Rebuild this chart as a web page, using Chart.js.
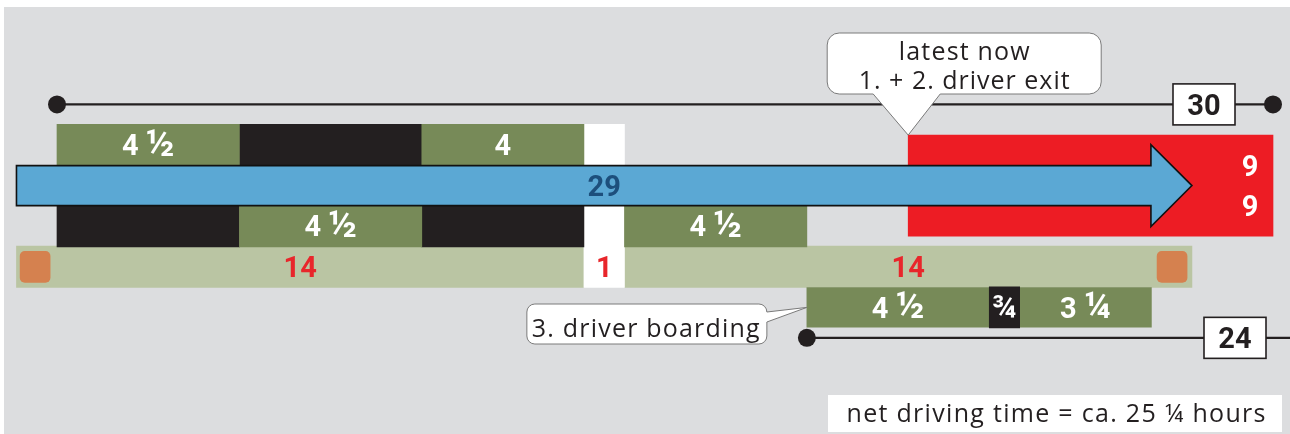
<!DOCTYPE html>
<html><head><meta charset="utf-8">
<script src="https://cdn.jsdelivr.net/npm/chart.js@4/dist/chart.umd.min.js"></script>
<style>html,body{margin:0;padding:0;background:#fff;overflow:hidden}#wrap{position:relative;width:1290px;height:434px}</style>
</head><body><div id="wrap"><canvas id="c" width="1290" height="434"></canvas></div>
<script>
// ---------- data (hours on the time axis) ----------
const driver1Drive = [[0, 4.5], [9, 13]];
const driver1DriveLabels = ['4 ½', '4'];
const driver1Rest = [[4.5, 9]];
const driver2Drive = [[4.5, 9], [14, 18.5]];
const driver2DriveLabels = ['4 ½', '4 ½'];
const driver2Rest = [[0, 4.5], [9, 13]];
const driver3Drive = [[18.5, 23], [23.75, 27]];
const driver3DriveLabels = ['4 ½', '3 ¼'];
const driver3Break = [[23, 23.75]];
const driver3BreakLabels = ['¾'];
const crewBreak = [[13, 14]];
const crewBreakLabels = ['1'];
const dailyRest = [[-1, 13], [14, 28]];
const dailyRestLabels = ['14', '14'];
const restMarkers = [[-0.91, -0.17], [27.14, 27.88]];
const journey = [-1, 28];
const journeyLabel = '29';
const exitWindow = [[21, 30]];
const exitWindowLabels = ['9', '9'];
const span30 = [0, 30];
const span30Label = '30';
const span24 = [18.5, 42.5];
const span24Label = '24';
const exitNote = ['latest now', '1. + 2. driver exit'];
const boardingNote = '3. driver boarding';
const netNote = 'net driving time = ca. 25 ¼ hours';

// ---------- layout (row positions on the y scale) ----------
const ROW = {line30: 2, top: 3, journey: 4, bottom: 5, rest: 6, third: 7, line24: 7.75};
const PITCH = 40.6;
const PXH = 1216 / 30;
const C = {green: '#778a58', black: '#231f20', light: '#bac5a3', red: '#ed1c24', orange: '#d5814f',
  white: '#ffffff', blue: '#5ba8d4', bg: '#dcdddf', labelRed: '#e8262b', navy: '#1d4f7c'};
const BOLD = 'Roboto, "DejaVu Sans", sans-serif';
const REG = '"Open Sans", Roboto, sans-serif';

const rows = (arr, row) => arr.map(r => ({x: r, y: row}));
function barSet(label, data, color, order, extra) {
  return Object.assign({type: 'bar', label, data, backgroundColor: color, borderWidth: 0,
    grouped: false, barThickness: PITCH + 0.6, order, indexAxis: 'y'}, extra || {});
}

const datasets = [
  barSet('exit window', rows(exitWindow, ROW.journey), C.red, 1, {barThickness: 101, segLabels: exitWindowLabels, labelMode: 'stack'}),
  barSet('driver 3 break', rows(driver3Break, ROW.third), C.black, 2, {segLabels: driver3BreakLabels, labelColor: '#fff', labelSize: 24}),
  barSet('driver 3 drive', rows(driver3Drive, ROW.third), C.green, 3, {barThickness: 39.5, segLabels: driver3DriveLabels, labelColor: '#fff'}),
  barSet('driver 1 drive', rows(driver1Drive, ROW.top), C.green, 3, {segLabels: driver1DriveLabels, labelColor: '#fff'}),
  barSet('driver 1 rest', rows(driver1Rest, ROW.top), C.black, 3),
  barSet('driver 2 drive', rows(driver2Drive, ROW.bottom), C.green, 3, {segLabels: driver2DriveLabels, labelColor: '#fff'}),
  barSet('driver 2 rest', rows(driver2Rest, ROW.bottom), C.black, 3),
  barSet('crew break', rows(crewBreak, ROW.top + 1.5), C.white, 4, {barThickness: PITCH * 4 + 0.6, segLabels: crewBreakLabels, labelColor: C.labelRed, labelRow: ROW.rest}),
  barSet('rest markers', rows(restMarkers, ROW.rest), C.orange, 5, {barThickness: 31, borderSkipped: false,
    borderRadius: {topLeft: 5, topRight: 5, bottomLeft: 5, bottomRight: 5}}),
  barSet('daily rest', rows(dailyRest, ROW.rest), C.light, 6, {segLabels: dailyRestLabels, labelColor: C.labelRed}),
  {type: 'line', label: '30 h', data: span30.map(v => ({x: v, y: ROW.line30})), borderColor: C.black, borderWidth: 2.2,
    pointRadius: 9, pointHoverRadius: 9, pointBackgroundColor: C.black, pointBorderWidth: 0, order: 7, indexAxis: 'x'},
  {type: 'line', label: '24 h', data: span24.map(v => ({x: v, y: ROW.line24})), borderColor: C.black, borderWidth: 2.2,
    pointRadius: [9, 0], pointHoverRadius: [9, 0], pointBackgroundColor: C.black, pointBorderWidth: 0, order: 7, indexAxis: 'x'}
];

// bold label: fraction glyphs drawn larger so they reach cap height
const FRACTIONS = '½¼¾';
function capText(ctx, txt, x, y, size, color) {
  const parts = Array.from(txt).map(ch => ({ch, s: FRACTIONS.includes(ch) ? size * 1.3 : size}));
  let total = 0;
  parts.forEach(p => { ctx.font = `bold ${p.s}px ${BOLD}`; p.w = ctx.measureText(p.ch).width; total += p.w; });
  let cx = x - total / 2;
  ctx.fillStyle = color; ctx.textAlign = 'left'; ctx.textBaseline = 'alphabetic';
  const base = y + size * 0.355;
  parts.forEach(p => {
    ctx.font = `bold ${p.s}px ${BOLD}`;
    ctx.fillText(p.ch, cx, base + (p.s !== size ? p.s * 0.02 : 0));
    cx += p.w;
  });
}
function regText(ctx, txt, x, y, size, align, spacing) {
  ctx.font = `normal ${size}px ${REG}`;
  ctx.fillStyle = '#231f20'; ctx.textBaseline = 'alphabetic';
  try { ctx.letterSpacing = spacing + 'px'; } catch (e) {}
  const w = ctx.measureText(txt).width - spacing;
  const left = align === 'center' ? x - w / 2 : x;
  ctx.textAlign = 'left';
  ctx.fillText(txt, left, y);
  try { ctx.letterSpacing = '0px'; } catch (e) {}
}

const bgPlugin = {
  id: 'bg',
  beforeDraw(chart) {
    const ctx = chart.ctx;
    ctx.save();
    ctx.fillStyle = '#fff'; ctx.fillRect(0, 0, chart.width, chart.height);
    ctx.fillStyle = C.bg; ctx.fillRect(4, 7, chart.width - 4, chart.height - 7);
    ctx.restore();
  }
};

const overlayPlugin = {
  id: 'overlay',
  afterDatasetsDraw(chart) {
    const ctx = chart.ctx, xs = chart.scales.x, ys = chart.scales.y;
    const X = v => xs.getPixelForValue(v), Y = v => ys.getPixelForValue(v);
    ctx.save();
    // blue journey arrow
    const x0 = X(journey[0]), x1 = X(journey[1]), yc = Y(ROW.journey);
    const bh = 20, hh = 41, hl = 41;
    ctx.beginPath();
    ctx.moveTo(x0, yc - bh); ctx.lineTo(x1 - hl, yc - bh); ctx.lineTo(x1 - hl, yc - hh);
    ctx.lineTo(x1, yc); ctx.lineTo(x1 - hl, yc + hh); ctx.lineTo(x1 - hl, yc + bh);
    ctx.lineTo(x0, yc + bh); ctx.closePath();
    ctx.fillStyle = C.blue; ctx.fill();
    ctx.lineWidth = 1.6; ctx.strokeStyle = '#111'; ctx.lineJoin = 'miter'; ctx.stroke();
    capText(ctx, journeyLabel, (x0 + x1) / 2, yc, 29, C.navy);

    // bar labels
    chart.data.datasets.forEach((ds, i) => {
      if (!ds.segLabels) return;
      const meta = chart.getDatasetMeta(i);
      if (ds.labelMode === 'stack') {
        const p = meta.data[0].getProps(['x', 'y', 'base'], true);
        const right = Math.max(p.x, p.base);
        ds.segLabels.forEach((t, k) => capText(ctx, t, right - 23, p.y + (k === 0 ? -20 : 20), 29, '#fff'));
        return;
      }
      meta.data.forEach((el, k) => {
        const t = ds.segLabels[k]; if (!t) return;
        const p = el.getProps(['x', 'y', 'base'], true);
        const cy = ds.labelRow !== undefined ? Y(ds.labelRow) : p.y;
        capText(ctx, t, (p.x + p.base) / 2, cy, ds.labelSize || 29, ds.labelColor || '#fff');
      });
    });

    // value boxes on span lines
    function valueBox(txt, cx, cy) {
      const w = 62, h = 41;
      ctx.fillStyle = '#fff'; ctx.fillRect(cx - w / 2, cy - h / 2, w, h);
      ctx.lineWidth = 1.6; ctx.strokeStyle = C.black; ctx.strokeRect(cx - w / 2, cy - h / 2, w, h);
      capText(ctx, txt, cx, cy, 29, C.black);
    }
    valueBox(span30Label, X(span30[1]) - 69, Y(ROW.line30));
    valueBox(span24Label, chart.chartArea.right - 55, Y(ROW.line24));

    // callout: exit
    ctx.lineWidth = 1; ctx.strokeStyle = '#7a7a7a'; ctx.fillStyle = '#fff';
    const tx = X(exitWindow[0][0]), ty = Y(ROW.journey) - 50.5;
    const bx = tx - 81, by = 33, bw = 274, bhh = 61;
    ctx.beginPath();
    const r = 12;
    ctx.moveTo(bx + r, by); ctx.lineTo(bx + bw - r, by); ctx.arcTo(bx + bw, by, bx + bw, by + r, r);
    ctx.lineTo(bx + bw, by + bhh - r); ctx.arcTo(bx + bw, by + bhh, bx + bw - r, by + bhh, r);
    ctx.lineTo(tx + 32, by + bhh); ctx.lineTo(tx, ty); ctx.lineTo(tx - 35, by + bhh);
    ctx.lineTo(bx + r, by + bhh); ctx.arcTo(bx, by + bhh, bx, by + bhh - r, r);
    ctx.lineTo(bx, by + r); ctx.arcTo(bx, by, bx + r, by, r); ctx.closePath();
    ctx.fill(); ctx.stroke();
    regText(ctx, exitNote[0], bx + bw / 2, 60, 25, 'center', 1.2);
    regText(ctx, exitNote[1], bx + bw / 2, 89, 25, 'center', 1.0);

    // callout: boarding
    const t2x = X(driver3Drive[0][0]), t2y = Y(ROW.third);
    const cx0 = t2x - 280, cy0 = 304, cw = 240, ch = 40, r2 = 8;
    ctx.beginPath();
    ctx.moveTo(cx0 + r2, cy0); ctx.lineTo(cx0 + cw - r2, cy0); ctx.arcTo(cx0 + cw, cy0, cx0 + cw, cy0 + r2, r2);
    ctx.lineTo(t2x, t2y); ctx.lineTo(cx0 + cw, cy0 + 18);
    ctx.lineTo(cx0 + cw, cy0 + ch - r2); ctx.arcTo(cx0 + cw, cy0 + ch, cx0 + cw - r2, cy0 + ch, r2);
    ctx.lineTo(cx0 + r2, cy0 + ch); ctx.arcTo(cx0, cy0 + ch, cx0, cy0 + ch - r2, r2);
    ctx.lineTo(cx0, cy0 + r2); ctx.arcTo(cx0, cy0, cx0 + r2, cy0, r2); ctx.closePath();
    ctx.fillStyle = '#fff'; ctx.fill(); ctx.stroke();
    regText(ctx, boardingNote, cx0 + 5, 337, 25, 'left', 1.2);

    // net driving note
    ctx.fillStyle = '#fff'; ctx.fillRect(828, 395, 454, 37);
    regText(ctx, netNote, 1056, 422, 25, 'center', 1.3);
    ctx.restore();
  }
};

new Chart(document.getElementById('c'), {
  type: 'bar',
  data: {datasets},
  options: {
    responsive: false, animation: false, indexAxis: 'y',
    layout: {padding: 0, autoPadding: false},
    plugins: {legend: {display: false}, tooltip: {enabled: false}, title: {display: false}},
    events: [],
    scales: {
      x: {type: 'linear', display: false, offset: false, min: -57 / PXH, max: (1290 - 57) / PXH},
      y: {type: 'linear', display: false, offset: false, reverse: true, min: 3 - 145 / PITCH, max: 3 - 145 / PITCH + 434 / PITCH, ticks: {stepSize: 1}}
    }
  },
  plugins: [bgPlugin, overlayPlugin]
});
</script></body></html>
